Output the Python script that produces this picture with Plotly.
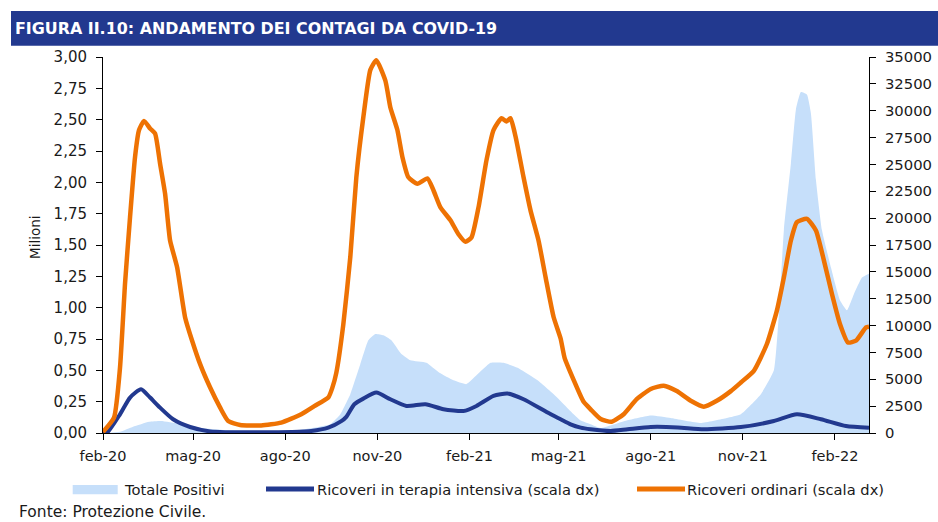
import plotly.graph_objects as go

# ---------------- data ----------------
dates_pos = ["2020-02-24","2020-03-12","2020-03-25","2020-04-10","2020-04-22","2020-05-10","2020-06-01",
             "2020-07-01","2020-08-01","2020-09-01","2020-09-20","2020-10-08","2020-10-18","2020-10-28",
             "2020-11-07","2020-11-15","2020-11-22","2020-11-30","2020-12-08","2020-12-18","2020-12-27",
             "2021-01-12","2021-01-25","2021-02-08","2021-02-21","2021-03-03","2021-03-17","2021-03-30",
             "2021-04-13","2021-05-03","2021-05-23","2021-06-08","2021-06-15","2021-06-25","2021-07-05",
             "2021-07-31","2021-08-24","2021-09-13","2021-10-13","2021-11-08","2021-11-22","2021-12-12",
             "2021-12-25","2021-12-30","2022-01-04","2022-01-11","2022-01-16","2022-01-21","2022-01-27",
             "2022-01-31","2022-02-05","2022-02-11","2022-02-20","2022-03-01","2022-03-08","2022-03-15",
             "2022-03-23","2022-03-30"]
totale_positivi = [0.0,0.01,0.05,0.09,0.096,0.075,0.04,
                   0.02,0.012,0.02,0.04,0.07,0.15,0.31,
                   0.55,0.74,0.79,0.78,0.74,0.63,0.58,
                   0.56,0.48,0.42,0.39,0.46,0.56,0.56,
                   0.52,0.42,0.28,0.15,0.10,0.07,0.04,
                   0.10,0.14,0.12,0.08,0.12,0.15,0.31,
                   0.50,0.95,1.62,2.15,2.58,2.72,2.70,
                   2.55,2.02,1.62,1.32,1.06,0.98,1.11,
                   1.24,1.27]

dates_ti = ["2020-02-24","2020-02-28","2020-03-12","2020-03-22","2020-04-02","2020-04-11","2020-04-21",
            "2020-05-04","2020-05-21","2020-06-10","2020-07-31","2020-08-31","2020-09-19","2020-10-06",
            "2020-10-19","2020-10-24","2020-11-01","2020-11-10","2020-11-23","2020-12-07","2020-12-23",
            "2021-01-11","2021-01-29","2021-02-18","2021-03-03","2021-03-20","2021-04-03","2021-04-19",
            "2021-05-13","2021-05-26","2021-06-05","2021-06-15","2021-06-25","2021-07-15","2021-08-01",
            "2021-08-24","2021-09-20","2021-10-16","2021-11-22","2021-12-25","2022-01-17","2022-02-10",
            "2022-03-07","2022-03-30"]
terapia_intensiva = [0,20,1740,3300,4070,3300,2360,
                     1280,560,150,60,100,190,500,
                     1100,1500,2680,3200,3760,3140,2520,
                     2680,2210,2050,2520,3450,3670,3140,
                     1900,1280,810,500,350,190,350,
                     560,520,350,550,1120,1740,1280,
                     650,500]

dates_ord = ["2020-02-24","2020-03-06","2020-03-12","2020-03-17","2020-03-22","2020-03-27","2020-03-31",
             "2020-04-05","2020-04-11","2020-04-16","2020-04-21","2020-04-26","2020-05-01","2020-05-08",
             "2020-05-16","2020-05-23","2020-05-31","2020-06-10","2020-06-20","2020-06-28","2020-07-10",
             "2020-07-31","2020-08-20","2020-09-09","2020-09-22","2020-10-06",
             "2020-10-10","2020-10-14","2020-10-21","2020-10-28","2020-11-03","2020-11-10","2020-11-17",
             "2020-11-23","2020-12-02","2020-12-07","2020-12-14","2020-12-19","2020-12-25","2021-01-03",
             "2021-01-13","2021-01-19","2021-01-26","2021-02-05","2021-02-13","2021-02-20","2021-02-26",
             "2021-03-05","2021-03-13","2021-03-20","2021-03-28","2021-04-02","2021-04-06","2021-04-11",
             "2021-04-19","2021-04-26","2021-05-04","2021-05-11","2021-05-19","2021-05-26","2021-05-30",
             "2021-06-08","2021-06-18","2021-06-25","2021-07-05","2021-07-16","2021-07-28","2021-08-10",
             "2021-08-24","2021-09-06","2021-09-19","2021-10-03","2021-10-16","2021-10-29","2021-11-12",
             "2021-11-22","2021-12-05","2021-12-18","2021-12-28","2022-01-04","2022-01-11","2022-01-17",
             "2022-01-27","2022-02-05","2022-02-13","2022-02-21","2022-03-01","2022-03-09","2022-03-17",
             "2022-03-27","2022-03-30"]
ricoveri_ordinari = [100,1430,6100,13900,20100,25700,28200,
                     29050,28350,27880,25080,22280,17920,15430,
                     10760,8590,6410,4230,2360,1120,750,
                     700,970,1750,2500,3300,
                     4200,5600,10100,16400,23800,29400,33800,
                     34700,32800,30300,28200,25700,23800,23200,
                     23700,22600,21000,19800,18500,17800,18200,
                     21000,25400,28200,29300,29000,29300,27600,
                     23800,20700,17900,14500,10800,8800,7000,
                     4950,2900,2200,1300,1050,1750,3150,
                     4100,4400,3900,3000,2450,3000,3900,
                     4700,5790,8280,11390,14500,17920,19630,
                     19940,18850,16050,12940,10150,8430,8590,
                     9830,9900]

tick_dates = ["2020-02-24","2020-05-24","2020-08-24","2020-11-24","2021-02-24",
              "2021-05-24","2021-08-24","2021-11-24","2022-02-24"]
tick_labels = ["feb-20","mag-20","ago-20","nov-20","feb-21","mag-21","ago-21","nov-21","feb-22"]

title_text = "FIGURA II.10: ANDAMENTO DEI CONTAGI DA COVID-19"
legend_labels = ["Totale Positivi", "Ricoveri in terapia intensiva (scala dx)", "Ricoveri ordinari (scala dx)"]
source_text = "Fonte: Protezione Civile."

# ---------------- styles ----------------
C_AREA = "#C6DFFA"
C_NAVY = "#22398F"
C_ORANGE = "#EE7203"
C_TITLE = "#22398F"
FONT = "DejaVu Sans"
TXT = "#1a1a1a"

fig = go.Figure()
fig.add_trace(go.Scatter(x=dates_pos, y=totale_positivi, name=legend_labels[0], mode="lines",
                         line=dict(width=0, color=C_AREA, shape="spline", smoothing=0.4),
                         fill="tozeroy", fillcolor=C_AREA, yaxis="y", showlegend=False))
fig.add_trace(go.Scatter(x=dates_ti, y=terapia_intensiva, name=legend_labels[1], mode="lines",
                         line=dict(width=4, color=C_NAVY, shape="spline", smoothing=0.6),
                         yaxis="y2", showlegend=False))
fig.add_trace(go.Scatter(x=dates_ord, y=ricoveri_ordinari, name=legend_labels[2], mode="lines",
                         line=dict(width=4.5, color=C_ORANGE, shape="spline", smoothing=0.5),
                         yaxis="y2", showlegend=False))

L, R, T, B = 103, 69, 57, 89
W, H = 938, 522
pw, ph = W - L - R, H - T - B

def px(x):
    return (x - L) / pw

def py(y):
    return (H - B - y) / ph

fig.update_layout(
    width=W, height=H,
    margin=dict(l=L, r=R, t=T, b=B, autoexpand=False),
    paper_bgcolor="white", plot_bgcolor="white",
    separators=",.",
    font=dict(family=FONT, color=TXT, size=15),
    xaxis=dict(type="date", range=["2020-02-24", "2022-03-30"], tickvals=tick_dates, ticktext=tick_labels,
               showgrid=False, zeroline=False, showline=True, linecolor="black", linewidth=1,
               ticks="outside", ticklen=6, tickcolor="black", tickfont=dict(size=14.5, family=FONT),
               ticklabelstandoff=4, automargin=False),
    yaxis=dict(range=[0, 3], dtick=0.25, tickformat=".2f", showgrid=False, zeroline=False,
               showline=True, linecolor="black", linewidth=1, ticks="outside", ticklen=6,
               tickcolor="black", tickfont=dict(size=15, family=FONT), ticklabelstandoff=6,
               automargin=False),
    yaxis2=dict(range=[0, 35000], dtick=2500, tickformat="d", overlaying="y", side="right",
                showgrid=False, zeroline=False, showline=True, linecolor="black", linewidth=1,
                ticks="outside", ticklen=6, tickcolor="black", tickfont=dict(size=14.8, family=FONT),
                ticklabelstandoff=6, automargin=False),
    showlegend=False,
)

shapes = []
annotations = []
# title bar
shapes.append(dict(type="rect", xref="paper", yref="paper", x0=px(11), x1=px(938), y0=py(45.7), y1=py(11),
                   fillcolor=C_TITLE, line=dict(width=0), layer="above"))
annotations.append(dict(text="<b>" + title_text + "</b>", xref="paper", yref="paper", x=px(13), y=py(28.7),
                        xanchor="left", yanchor="middle", showarrow=False,
                        font=dict(family=FONT, size=15.9, color="white")))
# y-axis title
annotations.append(dict(text="Milioni", xref="paper", yref="paper", x=px(35), y=py(238), textangle=-90,
                        xanchor="center", yanchor="middle", showarrow=False, font=dict(family=FONT, size=13.5)))
# legend
shapes.append(dict(type="rect", xref="paper", yref="paper", x0=px(72.7), x1=px(117.7), y0=py(494.3), y1=py(485),
                   fillcolor=C_AREA, line=dict(width=0)))
shapes.append(dict(type="line", xref="paper", yref="paper", x0=px(266), x1=px(314), y0=py(489), y1=py(489),
                   line=dict(color=C_NAVY, width=5)))
shapes.append(dict(type="line", xref="paper", yref="paper", x0=px(637), x1=px(685), y0=py(489), y1=py(489),
                   line=dict(color=C_ORANGE, width=5)))
for xl, lab in [(122, legend_labels[0]), (315, legend_labels[1]), (685, legend_labels[2])]:
    annotations.append(dict(text=lab, xref="paper", yref="paper", x=px(xl), y=py(489.5),
                            xanchor="left", yanchor="middle", showarrow=False,
                            font=dict(family=FONT, size=14.7)))
annotations.append(dict(text=source_text, xref="paper", yref="paper", x=px(17), y=py(511.7),
                        xanchor="left", yanchor="middle", showarrow=False, font=dict(family=FONT, size=15.5)))

fig.update_layout(shapes=shapes, annotations=annotations)
fig.write_html("out.html", config={"displayModeBar": False},
               post_script="document.body.style.margin='0px';document.body.style.overflow='hidden';")
